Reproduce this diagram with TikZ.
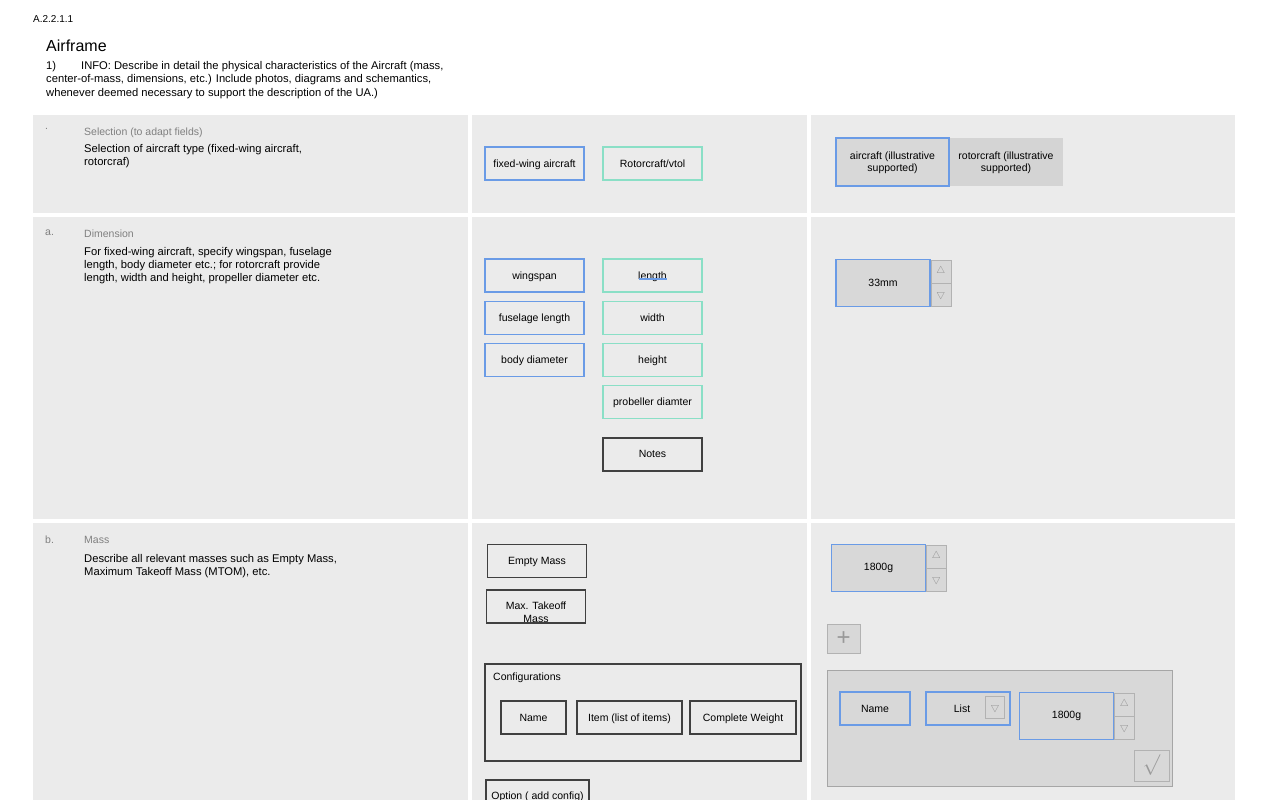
\documentclass[tikz,border=0pt]{standalone}
\usepackage{fontspec}
\setmainfont{Liberation Sans}
\usetikzlibrary{positioning}
\usetikzlibrary{calc}
\definecolor{panel}{HTML}{EBEBEB}
\definecolor{bluebd}{HTML}{6A9BE6}
\definecolor{tealbd}{HTML}{8ADFC6}
\definecolor{field}{HTML}{D8D8D8}
\definecolor{greytxt}{HTML}{808080}
\newcommand{\upmark}{$\bigtriangleup$}
\newcommand{\downmark}{$\bigtriangledown$}

\begin{document}
\begin{tikzpicture}[x=1pt, y=-1pt,
  field/.style={draw, line width=1.2pt, minimum width=99pt, minimum height=33pt, align=center, font=\fontsize{10.5}{12}\selectfont, inner sep=1pt, text depth=0pt},
  bluefield/.style={field, draw=bluebd},
  tealfield/.style={field, draw=tealbd},
  darkfield/.style={field, draw=black!75, line width=1.3pt},
  spin/.style={draw=bluebd, line width=1.2pt, fill=field, minimum width=94pt, minimum height=47pt, font=\fontsize{10.5}{12}\selectfont},
  arrowbox/.style={draw=black!30, fill=field, minimum width=20pt, minimum height=23pt, inner sep=0pt, text=black!45},
  desc/.style={anchor=north west, align=left, inner sep=0pt, font=\fontsize{11.2}{13}\selectfont},
  heading/.style={anchor=north west, inner sep=0pt, font=\fontsize{10.5}{12}\selectfont, text=greytxt}
]
\useasboundingbox (0,0) rectangle (1266,800);
\clip (0,0) rectangle (1266,800);

% header
\node[anchor=west, inner sep=0pt, font=\fontsize{10}{12}\selectfont] (secnum) at (33,19) {A.2.2.1.1};
\node[anchor=west, inner sep=0pt, font=\fontsize{16}{18}\selectfont] (title) at (46,46) {Airframe};
\node[desc, font=\fontsize{11.2}{13.5}\selectfont] (info) at (46,61) {1)\hspace{25pt}INFO: Describe in detail the physical characteristics of the Aircraft (mass,\\center-of-mass, dimensions, etc.) Include photos, diagrams and schemantics,\\whenever deemed necessary to support the description of the UA.)};

% panels
\foreach \ya/\yb in {115/213, 217/519, 523/800}{
  \fill[panel] (33,\ya) rectangle (468,\yb);
  \fill[panel] (472,\ya) rectangle (807,\yb);
  \fill[panel] (811,\ya) rectangle (1235,\yb);
}

% row 1: selection
\node[heading] (sdot) at (45,128) {.};
\node[heading] (shead) at (84,128) {Selection (to adapt fields)};
\node[desc] (stext) at (84,144) {Selection of aircraft type (fixed-wing aircraft,\\rotorcraf)};
\node[bluefield] (fixed) at (534.5,163.5) {fixed-wing aircraft};
\node[tealfield] (rotor) at (652.5,163.5) {Rotorcraft/vtol};
\node[field, draw=none, fill=field!110, minimum width=114pt, minimum height=48pt] (rotopt) at (1006,162) {rotorcraft (illustrative\\supported)};
\node[bluefield, fill=field, minimum width=113pt, minimum height=48pt] (acopt) at (892.5,162) {aircraft (illustrative\\supported)};

% row 2: dimension
\node[heading] (dlet) at (45,230) {a.};
\node[heading] (dhead) at (84,230) {Dimension};
\node[desc] (dtext) at (84,247) {For fixed-wing aircraft, specify wingspan, fuselage\\length, body diameter etc.; for rotorcraft provide\\length, width and height, propeller diameter etc.};
\node[bluefield] (wingspan) at (534.5,275.5) {wingspan};
\node[bluefield, below=8pt of wingspan] (fuselage) {fuselage length};
\node[bluefield, below=8pt of fuselage] (body) {body diameter};
\node[tealfield] (length) at (652.5,275.5) {length};
\draw[bluebd, line width=2pt] ([xshift=-14pt, yshift=-3pt]length.center) -- ([xshift=14pt, yshift=-3pt]length.center);
\node[tealfield, below=8pt of length] (width) {width};
\node[tealfield, below=8pt of width] (height) {height};
\node[tealfield, below=8pt of height] (propeller) {probeller diamter};
\node[darkfield, below=18pt of propeller] (notes) {Notes};
\node[spin] (dimval) at (883,283) {33mm};
\node[arrowbox, anchor=south west] (dimup) at (dimval.east) {\upmark};
\node[arrowbox, anchor=north west] (dimdown) at (dimval.east) {\downmark};

% row 3: mass
\node[heading] (mlet) at (45,536) {b.};
\node[heading] (mhead) at (84,536) {Mass};
\node[desc] (mtext) at (84,554) {Describe all relevant masses such as Empty Mass,\\Maximum Takeoff Mass (MTOM), etc.};
\node[darkfield] (empty) at (537,561) {Empty Mass};
\node[darkfield] (mtom) at (536,606.5) {};
\node[font=\fontsize{10.5}{13}\selectfont, align=center] (mtomtxt) at ([yshift=-6pt]mtom.center) {Max. Takeoff\\Mass};
\draw[black!75, line width=1.3pt] (485,664) rectangle (801,761) coordinate (cfgcorner);
\node[anchor=west, inner sep=0pt, font=\fontsize{10.5}{12}\selectfont] (cfglabel) at (493,678) {Configurations};
\node[darkfield, minimum width=65pt] (cfgname) at (533.5,717.5) {Name};
\node[darkfield, minimum width=105pt] (cfgitem) at (629.5,717.5) {Item (list of items)};
\node[darkfield, minimum width=106pt] (cfgweight) at (743,717.5) {Complete Weight};
\draw[black!75, line width=1.3pt] (486,810) rectangle (589,780) coordinate (optcorner);
\node[anchor=north, font=\fontsize{10.5}{12}\selectfont] (option) at (537.5,788) {Option ( add config)};

\node[spin] (massval) at (878.5,568) {1800g};
\node[arrowbox, anchor=south west] (massup) at (massval.east) {\upmark};
\node[arrowbox, anchor=north west] (massdown) at (massval.east) {\downmark};
\node[draw=black!30, fill=field, minimum width=33pt, minimum height=29pt, inner sep=0pt, text=black!40, font=\fontsize{24}{24}\selectfont] (addbtn) at (843.5,638.5) {+};

\draw[black!35, fill=field] (827,670) rectangle (1172,786);
\node[bluefield, fill=field, minimum width=70pt] (cname) at (875,708.5) {Name};
\node[bluefield, fill=field, minimum width=84pt] (clist) at (968,708.5) {\hspace{-12pt}List};
\node[draw=black!30, minimum width=19pt, minimum height=22pt, inner sep=0pt, text=black!45] (listdrop) at (995,707.5) {\downmark};
\node[spin] (cval) at (1066.5,716) {1800g};
\node[arrowbox, anchor=south west] (cup) at (cval.east) {\upmark};
\node[arrowbox, anchor=north west] (cdown) at (cval.east) {\downmark};
\node[draw=black!30, fill=field, minimum width=35pt, minimum height=31pt, inner sep=0pt, text=black!40, font=\fontsize{20}{20}\selectfont] (okbtn) at (1151.5,765.5) {$\surd$};

\end{tikzpicture}
\end{document}
